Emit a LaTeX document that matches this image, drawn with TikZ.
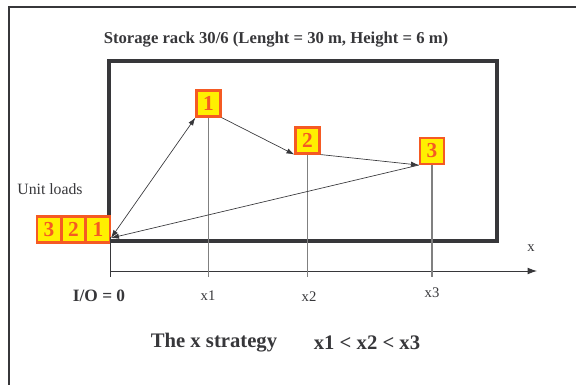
\documentclass[tikz,border=0pt]{standalone}
\usepackage{fontspec}
\setmainfont{Liberation Serif}
\usetikzlibrary{arrows.meta}
\definecolor{ink}{RGB}{55,55,58}
\definecolor{boxred}{RGB}{245,90,35}
\definecolor{boxfill}{RGB}{255,240,0}
\tikzset{
    load/.style={draw=boxred, fill=boxfill, line width=1.6pt, text=boxred,
        minimum width=18pt, minimum height=19.5pt, inner sep=0pt, font=\fontsize{16}{16}\bfseries\selectfont},
    flow/.style={draw=ink, line width=0.5pt, -{Latex[length=6pt,width=4pt]}},
    drop/.style={draw=gray, line width=0.8pt}
}
\begin{document}
\begin{tikzpicture}[x=0.75pt, y=-0.75pt, text=ink]
    \useasboundingbox (0,0) rectangle (576,385);
    % frame
    \draw[ink, line width=2pt] (9,385) -- (9,7) -- (576,7);
    % rack
    \draw[ink, line width=2.4pt] (109,61) rectangle (497,241);
    \node[font=\fontsize{12.5}{14}\bfseries\selectfont] (title) at (276,40) {Storage rack 30/6 (Lenght = 30 m, Height = 6 m)};
    % unit loads waiting at I/O
    \node[font=\fontsize{11.8}{14}\selectfont] (unit) at (50,189) {Unit loads};
    \node[load] (q3) at (49,229.5) {3};
    \node[load] (q2) at (73.5,229.5) {2};
    \node[load] (q1) at (98,229.5) {1};
    % stored loads
    \node[load] (b1) at (208.5,103.5) {1};
    \node[load] (b2) at (307.5,140.5) {2};
    \node[load] (b3) at (432,151) {3};
    % x axis
    \coordinate (io) at (111,238);
    \coordinate (base) at (0,277);
    \coordinate (xend) at (537,271);
    \draw[ink, line width=0.6pt] (110,237) -- (110,277);
    \draw[ink, line width=0.6pt, -{Latex[length=7pt,width=5pt]}] (110,271) -- (xend);
    \node[font=\fontsize{11}{13}\selectfont] (xlab) at (531,248) {x};
    \foreach \b in {b1,b2,b3}
    \draw[drop] (\b.south) -- (\b.south |- base);
    \node[font=\fontsize{11}{13}\selectfont] (x1) at (208,296) {x1};
    \node[font=\fontsize{11}{13}\selectfont] (x2) at (309,297) {x2};
    \node[font=\fontsize{11}{13}\selectfont] (x3) at (432,293) {x3};
    \node[font=\fontsize{13}{15}\bfseries\selectfont] (iozero) at (99,296) {I/O = 0};
    % route
    \draw[flow, {Latex[length=6pt,width=4pt]}-{Latex[length=6pt,width=4pt]}] (io) -- (b1.south west);
    \draw[flow] (b1.south east) -- (b2.south west);
    \draw[flow] (b2.south east) -- (b3.south west);
    \draw[flow] (b3.south west) -- (io);
    \node[font=\fontsize{15.5}{18}\bfseries\selectfont] (strat) at (214,343) {The x strategy};
    \node[font=\fontsize{15.5}{18}\bfseries\selectfont] (order) at (367,343) {x1 < x2 < x3};
\end{tikzpicture}
\end{document}
